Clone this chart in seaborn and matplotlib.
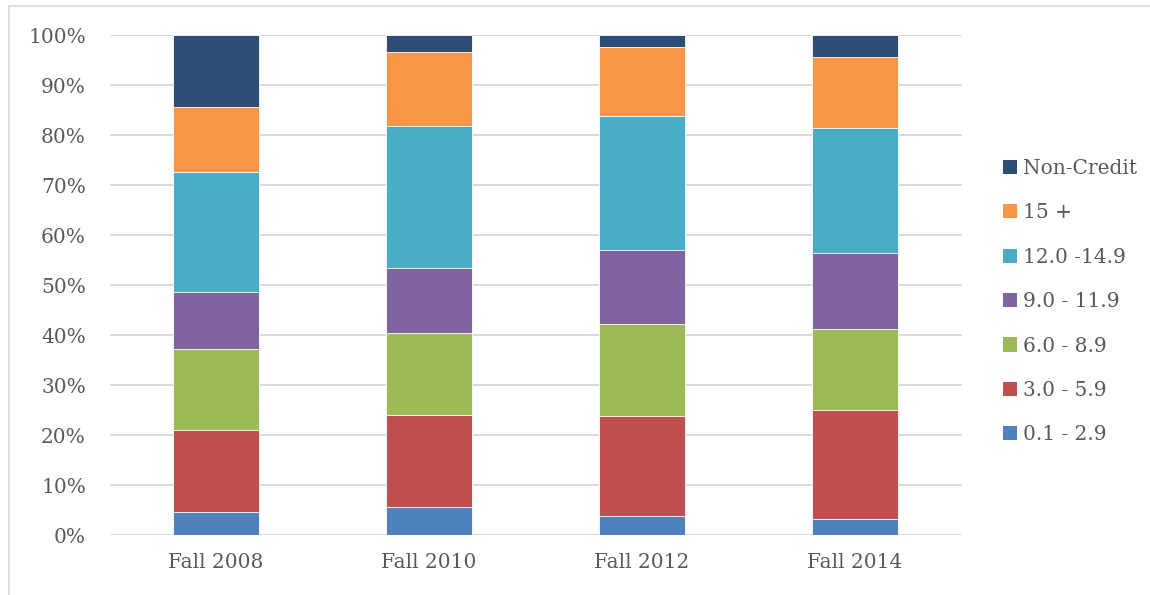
import matplotlib
matplotlib.use("Agg")
import matplotlib.pyplot as plt
import seaborn as sns
import numpy as np
import pandas as pd
from matplotlib.patches import Patch
from matplotlib.lines import Line2D

terms = ["Fall 2008", "Fall 2010", "Fall 2012", "Fall 2014"]
series_names = ["0.1 - 2.9", "3.0 - 5.9", "6.0 - 8.9", "9.0 - 11.9", "12.0 -14.9", "15 +", "Non-Credit"]
s_0_1 = [4.6, 5.7, 3.8, 3.3]
s_3_0 = [16.5, 18.3, 20.1, 21.8]
s_6_0 = [16.2, 16.4, 18.4, 16.1]
s_9_0 = [11.4, 13.1, 14.7, 15.3]
s_12_0 = [24.0, 28.4, 26.9, 24.9]
s_15 = [13.0, 14.8, 13.8, 14.3]
s_noncredit = [14.3, 3.3, 2.3, 4.3]
colors = ["#4f81bd", "#c0504d", "#9bbb59", "#8064a2", "#4bacc6", "#f79646", "#2c4d75"]

sns.set_theme(style="white")
plt.rcParams['font.family'] = ['DejaVu Serif', 'Liberation Serif']

series = [s_0_1, s_3_0, s_6_0, s_9_0, s_12_0, s_15, s_noncredit]
cum = np.cumsum(np.array(series), axis=0)

fig = plt.figure(figsize=(11.5, 5.95), dpi=100)
ax = fig.add_axes([109.5/1150, (595-535.3)/595, (961.5-109.5)/1150, 500/595])

for i in range(len(series) - 1, -1, -1):
    df = pd.DataFrame({"term": terms, "value": cum[i]})
    sns.barplot(data=df, x="term", y="value", color=colors[i], width=0.4,
                saturation=1, ax=ax, edgecolor="white", linewidth=0.6, zorder=3)

ax.set_ylim(0, 100)
ax.set_xlim(-0.5, 3.5)
ax.set_yticks(np.arange(0, 101, 10))
ax.set_yticklabels([f"{v}%" for v in range(0, 101, 10)])
ax.yaxis.grid(True, color="#d9d9d9", linewidth=1.4, zorder=0)
ax.set_axisbelow(True)
for sp in ax.spines.values():
    sp.set_visible(False)
ax.set_xlabel("")
ax.set_ylabel("")
ax.tick_params(axis="both", length=0, labelsize=14.5, colors="#595959")
ax.tick_params(axis="y", pad=17)
ax.tick_params(axis="x", pad=13)

handles = [Patch(facecolor=colors[i], edgecolor="none", label=series_names[i])
           for i in range(len(series_names) - 1, -1, -1)]
leg = fig.legend(handles=handles, loc="upper left", bbox_to_anchor=(995/1150, 1 - 151/595),
                 frameon=False, fontsize=14.5, handlelength=0.7, handleheight=0.7,
                 handletextpad=0.3, labelspacing=1.26, borderaxespad=0)
for t in leg.get_texts():
    t.set_color("#595959")

fig.add_artist(Line2D([9/1150, 9/1150], [0, 1 - 6/595], transform=fig.transFigure,
                      color="#d9d9d9", linewidth=1.2))
fig.add_artist(Line2D([9/1150, 1], [1 - 6/595, 1 - 6/595], transform=fig.transFigure,
                      color="#d9d9d9", linewidth=1.2))

fig.savefig("out.png", dpi=100)
